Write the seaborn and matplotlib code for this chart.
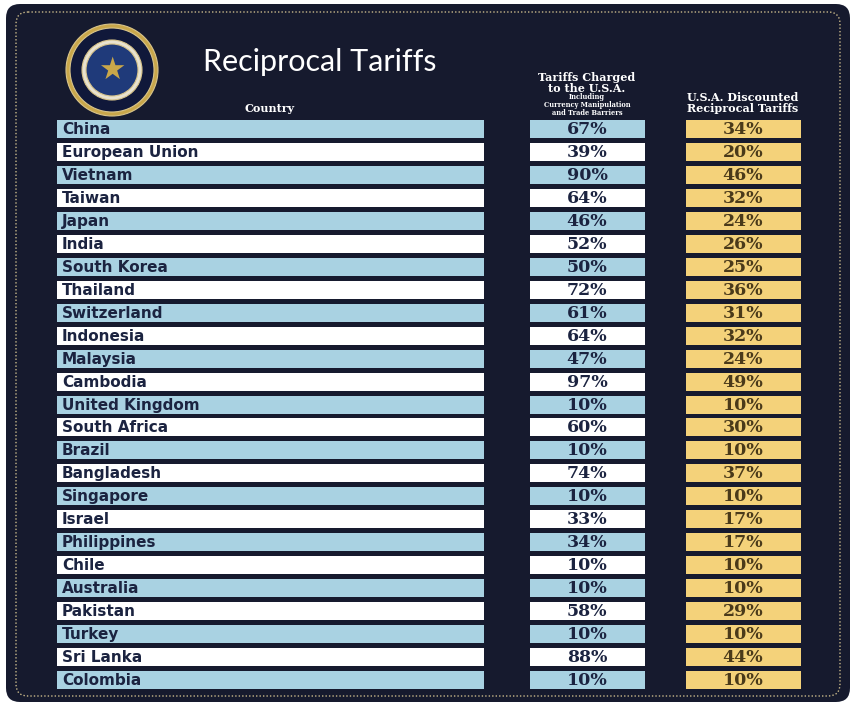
import matplotlib
matplotlib.use("Agg")
import matplotlib.pyplot as plt
from matplotlib.patches import Circle, FancyBboxPatch
import seaborn as sns
import pandas as pd

countries = ["China", "European Union", "Vietnam", "Taiwan", "Japan", "India", "South Korea",
             "Thailand", "Switzerland", "Indonesia", "Malaysia", "Cambodia", "United Kingdom",
             "South Africa", "Brazil", "Bangladesh", "Singapore", "Israel", "Philippines", "Chile",
             "Australia", "Pakistan", "Turkey", "Sri Lanka", "Colombia"]
charged = [67, 39, 90, 64, 46, 52, 50, 72, 61, 64, 47, 97, 10, 60, 10, 74, 10, 33, 34, 10, 10, 58, 10, 88, 10]
discounted = [34, 20, 46, 32, 24, 26, 25, 36, 31, 32, 24, 49, 10, 30, 10, 37, 10, 17, 17, 10, 10, 29, 10, 44, 10]

df = pd.DataFrame({"country": countries, "charged": charged, "discounted": discounted})

sns.set_theme(style="white")
BG = "#161a2e"
BLUE = "#a9d2e2"
YEL = "#f4d27a"
NAVY = "#1b2340"

fig = plt.figure(figsize=(8.56, 7.06), dpi=100, facecolor="white")
ax = fig.add_axes([0, 0, 1, 1])
ax.set_xlim(0, 856); ax.set_ylim(706, 0); ax.axis("off")

ax.add_patch(FancyBboxPatch((6, 4), 844, 698, boxstyle="round,pad=0,rounding_size=14",
                            facecolor=BG, edgecolor="none"))
ax.add_patch(FancyBboxPatch((16, 12), 824, 684, boxstyle="round,pad=0,rounding_size=12",
                            facecolor="none", edgecolor="#c9b98a", lw=1, ls=(0, (1, 1.5))))

# seal
for r, c in [(46, "#c9a74a"), (42, "#10183a"), (30, "#e8e2d0"), (26, "#1f3a7a")]:
    ax.add_patch(Circle((112, 70), r, facecolor=c, edgecolor="#d8c48a", lw=0.8))
ax.text(112, 70, "★", color="#c9a74a", ha="center", va="center", fontsize=22)

ax.text(203, 62, "Reciprocal Tariffs", color="white", fontsize=22, ha="left", va="center",
        family="Lato")
ax.text(270, 108, "Country", color="white", fontsize=8, fontweight="bold", ha="center",
        va="center", family="DejaVu Serif")
ax.text(587, 83, "Tariffs Charged\nto the U.S.A.", color="white", fontsize=8, fontweight="bold",
        ha="center", va="center", family="DejaVu Serif", linespacing=1.0)
ax.text(587, 105, "Including\nCurrency Manipulation\nand Trade Barriers", color="white",
        fontsize=4.8, fontweight="bold", ha="center", va="center", family="DejaVu Serif",
        linespacing=1.0)
ax.text(743, 103, "U.S.A. Discounted\nReciprocal Tariffs", color="white", fontsize=8,
        fontweight="bold", ha="center", va="center", family="DejaVu Serif", linespacing=1.1)

y0, step, h = 129, 22.96, 18
ys = [y0 + i * step for i in range(len(df))]
fills = [BLUE if i % 2 == 0 else "white" for i in range(len(df))]
ax.barh(ys, 427, left=57, height=h, color=fills, edgecolor="none")
ax.barh(ys, 115, left=530, height=h, color=fills, edgecolor="none")
ax.barh(ys, 115, left=686, height=h, color=YEL, edgecolor="none")

for y, row in zip(ys, df.itertuples()):
    ax.text(62, y + 0.5, row.country, color=NAVY, fontsize=11, fontweight="bold",
            ha="left", va="center", family="DejaVu Sans")
    ax.text(587, y + 0.5, f"{row.charged}%", color=NAVY, fontsize=12.5, fontweight="bold",
            ha="center", va="center", family="DejaVu Serif")
    ax.text(743, y + 0.5, f"{row.discounted}%", color="#4a3a1a", fontsize=12.5, fontweight="bold",
            ha="center", va="center", family="DejaVu Serif")

fig.savefig("out.png", dpi=100, facecolor="white")
